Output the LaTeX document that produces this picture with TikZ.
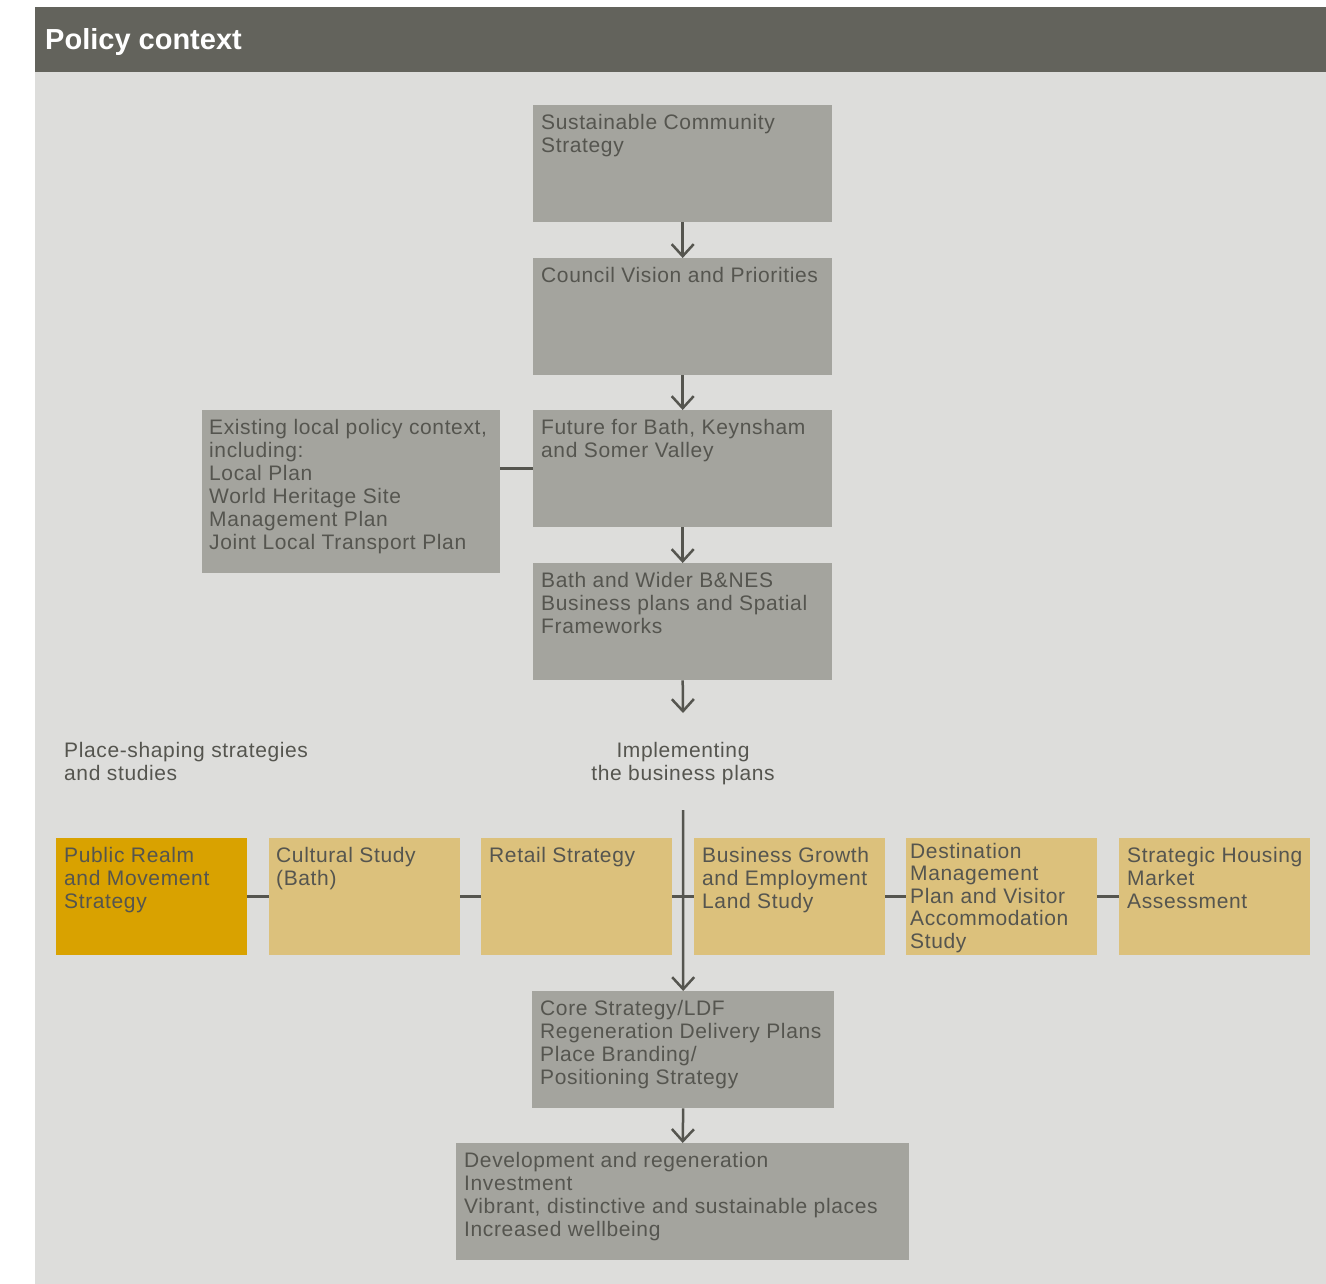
\documentclass[tikz,border=0pt]{standalone}
\usepackage{fontspec}
\setmainfont[LetterSpace=3]{Liberation Sans}
\newfontfamily\titlefont{Liberation Sans}
\usetikzlibrary{arrows.meta}
\definecolor{panel}{HTML}{DDDDDB}
\definecolor{header}{HTML}{63635C}
\definecolor{gboxc}{HTML}{A4A49E}
\definecolor{tanc}{HTML}{DCC17C}
\definecolor{goldc}{HTML}{D9A200}
\definecolor{ink}{HTML}{55554F}
\begin{document}
\begin{tikzpicture}[x=1pt,y=-1pt,
  greybox/.style={fill=gboxc, draw=none, anchor=north west, inner sep=0pt, minimum height=117pt},
  tanbox/.style={fill=tanc, draw=none, anchor=north west, inner sep=0pt, minimum width=191pt, minimum height=117pt},
  goldbox/.style={tanbox, fill=goldc},
  txt/.style={anchor=north west, align=left, inner sep=0pt, text=ink, font=\fontsize{21}{23}\selectfont},
  ctxt/.style={txt, anchor=north, align=center},
  arr/.style={draw=ink, line width=2.5pt, -{Straight Barb[length=12pt,width=22pt,line width=2.5pt]}},
  conn/.style={draw=ink, line width=3pt}]
\useasboundingbox (0,0) rectangle (1326,1284);
\fill[panel] (35,7) rectangle (1326,1284);
\fill[header] (35,7) rectangle (1326,72);
\node[anchor=base west, inner sep=0pt, text=white, font=\titlefont\bfseries\fontsize{29}{32}\selectfont] (title) at (45,50) {Policy context};

% grey boxes
\node[greybox, minimum width=299pt] (scs) at (533,105) {};
\node[txt] (scs-t) at (541,113) {\rule{0pt}{16pt}Sustainable Community\\Strategy};
\node[greybox, minimum width=299pt] (cvp) at (533,258) {};
\node[txt] (cvp-t) at (541,266) {\rule{0pt}{16pt}Council Vision and Priorities};
\node[greybox, minimum width=299pt] (fut) at (533,410) {};
\node[txt] (fut-t) at (541,418) {\rule{0pt}{16pt}Future for Bath, Keynsham\\and Somer Valley};
\node[greybox, minimum width=298pt, minimum height=163pt] (ex) at (202,410) {};
\node[txt] (ex-t) at (209,418) {\rule{0pt}{16pt}Existing local policy context,\\including:\\Local Plan\\World Heritage Site\\Management Plan\\Joint Local Transport Plan};
\node[greybox, minimum width=299pt] (bath) at (533,563) {};
\node[txt] (bath-t) at (541,571) {\rule{0pt}{16pt}Bath and Wider B\&NES\\Business plans and Spatial\\Frameworks};
\node[greybox, minimum width=302pt] (core) at (532,991) {};
\node[txt] (core-t) at (540,999) {\rule{0pt}{16pt}Core Strategy/LDF\\Regeneration Delivery Plans\\Place Branding/\\Positioning Strategy};
\node[greybox, minimum width=453pt] (dev) at (456,1143) {};
\node[txt] (dev-t) at (464,1151) {\rule{0pt}{16pt}Development and regeneration\\Investment\\Vibrant, distinctive and sustainable places\\Increased wellbeing};

% labels
\node[txt] (place) at (64,741) {\rule{0pt}{16pt}Place-shaping strategies\\and studies};
\node[ctxt] (impl) at (683,741) {\rule{0pt}{16pt}Implementing\\the business plans};

% tan boxes
\node[goldbox] (pr) at (56,838) {};
\node[txt] (pr-t) at (64,846) {\rule{0pt}{16pt}Public Realm\\and Movement\\Strategy};
\node[tanbox] (cs) at (269,838) {};
\node[txt] (cs-t) at (276,846) {\rule{0pt}{16pt}Cultural Study\\(Bath)};
\node[tanbox] (rs) at (481,838) {};
\node[txt] (rs-t) at (489,846) {\rule{0pt}{16pt}Retail Strategy};
\node[tanbox] (bg) at (694,838) {};
\node[txt] (bg-t) at (702,846) {\rule{0pt}{16pt}Business Growth\\and Employment\\Land Study};
\node[tanbox] (dm) at (906,838) {};
\node[txt, font=\fontsize{21}{22.5}\selectfont] (dm-t) at (910,842) {\rule{0pt}{16pt}Destination\\Management\\Plan and Visitor\\Accommodation\\Study};
\node[tanbox] (sh) at (1119,838) {};
\node[txt] (sh-t) at (1127,846) {\rule{0pt}{16pt}Strategic Housing\\Market\\Assessment};

% connectors
\coordinate (bathend) at (683,713);
\coordinate (vtop) at (683,810);
\draw[arr] (scs.south) -- (cvp.north);
\draw[arr] (cvp.south) -- (fut.north);
\draw[arr] (fut.south) -- (bath.north);
\draw[arr] (bath.south) -- (bathend);
\draw[conn] (ex.east |- fut.west) -- (fut.west);
\draw[conn] (pr.east) -- (cs.west);
\draw[conn] (cs.east) -- (rs.west);
\draw[conn] (rs.east) -- (bg.west);
\draw[conn] (bg.east) -- (dm.west);
\draw[conn] (dm.east) -- (sh.west);
\draw[arr] (vtop) -- (core.north);
\draw[arr] (core.south) -- (dev.north);
\end{tikzpicture}
\end{document}
